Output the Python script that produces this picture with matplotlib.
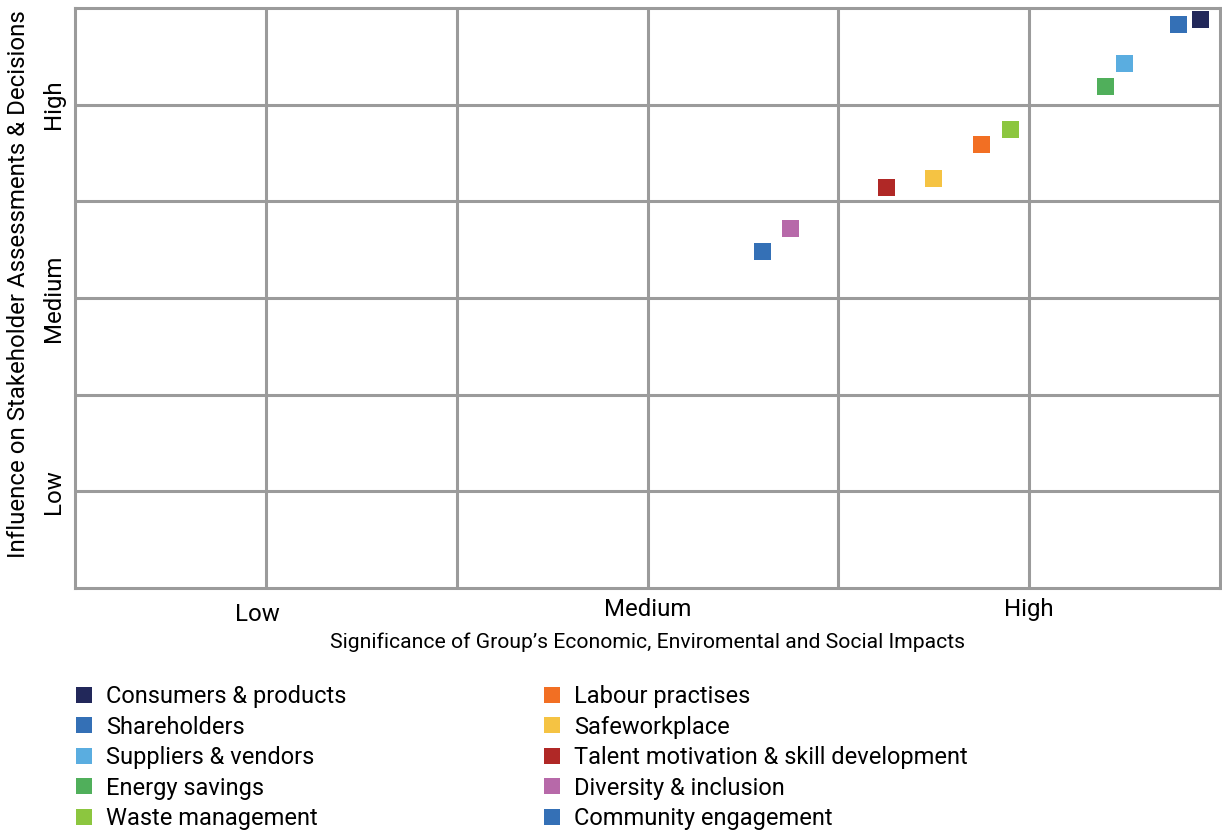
import matplotlib.pyplot as plt
import matplotlib.transforms as mtransforms
from matplotlib.lines import Line2D

plt.rcParams['font.family'] = ['Roboto', 'DejaVu Sans']

# materiality matrix: significance (x) vs influence (y), scale 0-6
topics = ['Consumers & products', 'Shareholders', 'Suppliers & vendors',
          'Energy savings', 'Waste management', 'Labour practises',
          'Safeworkplace', 'Talent motivation & skill development',
          'Diversity & inclusion', 'Community engagement']
significance = [5.90, 5.78, 5.50, 5.40, 4.90, 4.75, 4.50, 4.25, 3.75, 3.60]
influence = [5.88, 5.83, 5.43, 5.19, 4.74, 4.59, 4.24, 4.14, 3.72, 3.48]
colors = ['#22285a', '#3470b6', '#5aade0', '#50af5b', '#8cc63f',
          '#f26f23', '#f5c343', '#b02826', '#b769a9', '#3470b6']

level_pos = [1, 3, 5]
level_names = ['Low', 'Medium', 'High']

grid_col = '#9b9b9b'

fig = plt.figure(figsize=(12.22, 8.31), dpi=100)
ax = fig.add_axes([0.0614, 0.2924, 0.9370, 0.6980])

ax.set_xlim(0, 6)
ax.set_ylim(0, 6)
for k in range(1, 6):
    ax.axvline(k, color=grid_col, lw=2.2, zorder=1)
    ax.axhline(k, color=grid_col, lw=2.2, zorder=1)
for sp in ax.spines.values():
    sp.set_color(grid_col)
    sp.set_linewidth(2.2)

ax.scatter(significance, influence, c=colors, marker='s', s=150,
           linewidths=0, zorder=3)

ax.set_xticks(level_pos)
ax.set_xticklabels(level_names, fontsize=17.3)
ax.set_yticks(level_pos)
ax.set_yticklabels(level_names, fontsize=17.3, rotation=90, va='center')
ax.tick_params(length=0, pad=7)

# the "Low" label on x sits a little left and lower
lbl = ax.get_xticklabels()[0]
lbl.set_transform(lbl.get_transform() +
                  mtransforms.ScaledTranslation(-0.08, -0.05, fig.dpi_scale_trans))

ax.set_xlabel('Significance of Group\u2019s Economic, Enviromental and Social Impacts',
              fontsize=15.2, labelpad=5)
fig.text(0.015, 0.658, 'Influence on Stakeholder Assessments & Decisions',
         rotation=90, ha='center', va='center', fontsize=17.3)

handles = [Line2D([], [], marker='s', ls='none', markersize=12,
                  markerfacecolor=c, markeredgewidth=0) for c in colors]
fig.legend(handles, topics, loc='upper left', bbox_to_anchor=(0.061, 0.1755),
           ncol=2, frameon=False, fontsize=17, handlelength=0.8,
           handletextpad=0.53, labelspacing=0.316, columnspacing=8.33,
           borderpad=0, borderaxespad=0)

fig.savefig('out.png', dpi=100)
